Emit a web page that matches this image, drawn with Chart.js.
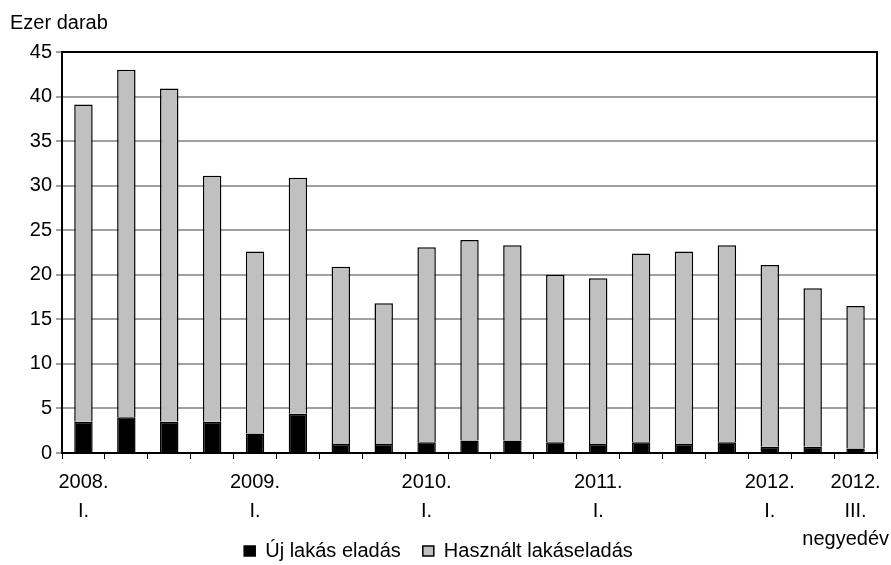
<!DOCTYPE html>
<html>
<head>
<meta charset="utf-8">
<script src="https://cdn.jsdelivr.net/npm/chart.js@4/dist/chart.umd.min.js"></script>
<style>
html,body{margin:0;padding:0;background:#fff;}
#wrap{width:891px;height:565px;position:relative;}
</style>
</head>
<body>
<div id="wrap"><canvas id="c"></canvas></div>
<script>
const categories = ['2008 I.','2008 II.','2008 III.','2008 IV.','2009 I.','2009 II.','2009 III.','2009 IV.','2010 I.','2010 II.','2010 III.','2010 IV.','2011 I.','2011 II.','2011 III.','2011 IV.','2012 I.','2012 II.','2012 III.'];
const tickLabels = [['2008.','I.'],'','','',['2009.','I.'],'','','',['2010.','I.'],'','','',['2011.','I.'],'','','',['2012.','I.'],'',['2012.','III.']];
const newSales = [3.5, 4.0, 3.5, 3.5, 2.2, 4.4, 1.0, 1.0, 1.2, 1.4, 1.4, 1.2, 1.0, 1.2, 1.0, 1.2, 0.7, 0.7, 0.5];
const usedSales = [35.6, 39.0, 37.4, 27.6, 20.4, 26.5, 19.9, 15.8, 21.9, 22.5, 21.9, 18.8, 18.6, 21.2, 21.6, 22.1, 20.4, 17.8, 16.0];
const seriesNames = ['Új lakás eladás', 'Használt lakáseladás'];
const yTitle = 'Ezer darab';
const xNote = 'negyedév';

const FONT = '"Liberation Sans", Arial, sans-serif';
Chart.defaults.color = '#000';
Chart.defaults.font.family = FONT;
Chart.defaults.font.size = 20;

const extras = {
  id: 'extras',
  afterDraw(chart) {
    const {ctx, chartArea: a} = chart;
    ctx.save();
    ctx.strokeStyle = '#000';
    ctx.lineWidth = 2;
    ctx.beginPath();
    ctx.moveTo(a.left, a.top);
    ctx.lineTo(a.right, a.top);
    ctx.lineTo(a.right, a.bottom);
    ctx.stroke();
    ctx.fillStyle = '#000';
    ctx.font = '20px ' + FONT;
    ctx.textBaseline = 'alphabetic';
    ctx.textAlign = 'left';
    ctx.fillText(yTitle, 10, 29);
    ctx.textAlign = 'right';
    ctx.fillText(xNote, 889, 545);
    ctx.restore();
  }
};

new Chart(document.getElementById('c'), {
  type: 'bar',
  data: {
    labels: categories,
    datasets: [
      {label: seriesNames[0], data: newSales, backgroundColor: '#000000', borderColor: '#000000', borderWidth: 1.5, barPercentage: 0.43, categoryPercentage: 1},
      {label: seriesNames[1], data: usedSales, backgroundColor: '#c0c0c0', borderColor: '#000000', borderWidth: 1.5, barPercentage: 0.43, categoryPercentage: 1}
    ]
  },
  options: {
    responsive: true,
    maintainAspectRatio: false,
    animation: false,
    layout: {padding: {left: 0, right: 14, top: 52, bottom: -6}},
    plugins: {
      tooltip: {enabled: false},
      title: {display: false},
      legend: {
        position: 'bottom',
        labels: {boxWidth: 11, boxHeight: 10, padding: 22, font: {size: 20}, color: '#000'}
      }
    },
    scales: {
      x: {
        stacked: true,
        offset: true,
        grid: {display: true, drawOnChartArea: false, color: '#000', lineWidth: 1, tickLength: 6, offset: true},
        border: {display: true, color: '#000', width: 2},
        ticks: {
          autoSkip: false, maxRotation: 0, minRotation: 0, padding: 9,
          font: {size: 20, lineHeight: 1.45},
          callback: (v, i) => tickLabels[i]
        },
        afterFit: s => { s.height = 66; }
      },
      y: {
        stacked: true,
        min: 0, max: 45,
        ticks: {stepSize: 5, padding: 4, font: {size: 20}},
        grid: {color: '#a0a0a0', lineWidth: 2, tickLength: 6},
        border: {display: true, color: '#000', width: 2},
        afterFit: s => { s.width = 62; }
      }
    }
  },
  plugins: [extras]
});
</script>
</body>
</html>
